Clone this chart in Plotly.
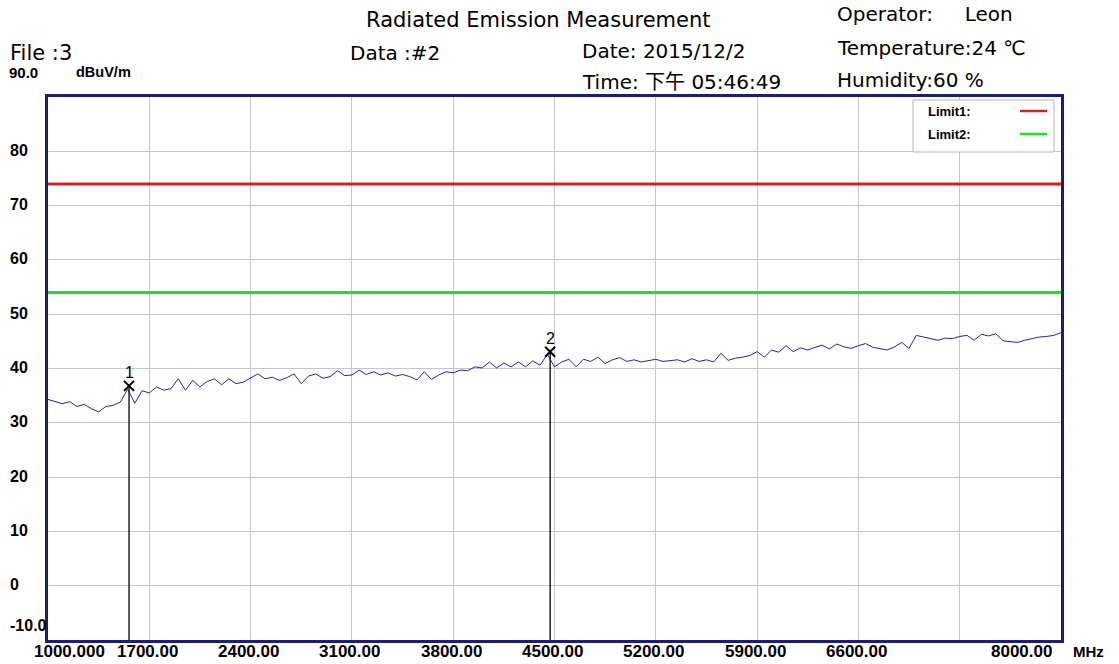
import plotly.graph_objects as go

# ---------------- data ----------------
FREQ_MHZ = list(range(1000, 8001, 50))
LEVEL_DBUV = [
    34.3, 33.9, 33.5, 33.9, 33.0, 33.4, 32.6, 32.0, 33.0, 33.2,
    33.8, 36.2, 33.6, 35.9, 35.5, 36.6, 36.0, 36.3, 38.1, 36.0,
    37.8, 36.6, 37.6, 38.1, 37.0, 38.1, 37.2, 37.5, 38.2, 39.0,
    38.1, 38.4, 37.8, 38.3, 39.0, 37.2, 38.6, 39.0, 38.2, 38.5,
    39.6, 38.7, 38.8, 39.7, 38.9, 39.4, 38.8, 39.2, 38.6, 38.9,
    38.5, 37.9, 39.4, 38.0, 38.8, 39.4, 39.2, 39.7, 39.6, 40.3,
    40.1, 41.2, 40.1, 41.0, 40.3, 41.2, 40.3, 41.4, 40.6, 42.6,
    40.3, 41.2, 41.7, 40.3, 41.7, 41.3, 42.1, 40.9, 41.6, 42.0,
    41.3, 41.6, 41.2, 41.5, 41.7, 41.3, 41.5, 41.6, 41.2, 41.8,
    41.3, 41.6, 41.2, 42.8, 41.5, 41.9, 42.1, 42.4, 43.1, 42.1,
    43.4, 43.0, 44.2, 43.1, 43.8, 43.4, 43.9, 44.3, 43.6, 44.5,
    44.0, 43.7, 44.2, 44.6, 43.9, 43.7, 43.4, 44.0, 44.8, 43.7,
    46.1, 45.8, 45.5, 45.2, 45.6, 45.5, 45.9, 46.1, 45.2, 46.3,
    46.0, 46.4, 45.1, 44.9, 44.8, 45.2, 45.5, 45.8, 45.9, 46.1,
    46.6,
]
assert len(FREQ_MHZ) == len(LEVEL_DBUV)

LIMIT1_DBUV = 74.0
LIMIT2_DBUV = 54.0

MARKER_LABELS = ["1", "2"]
MARKER_FREQ = [1560, 4470]
MARKER_LEVEL = [36.8, 43.1]

X_MIN, X_MAX = 1000, 8000
Y_MIN, Y_MAX = -10, 90
X_GRID_VALUES = [1700, 2400, 3100, 3800, 4500, 5200, 5900, 6600, 7300]
X_TICK_VALUES = [1700, 2400, 3100, 3800, 4500, 5200, 5900, 6600]
X_TICK_TEXT = ["1700.00", "2400.00", "3100.00", "3800.00", "4500.00",
               "5200.00", "5900.00", "6600.00"]
Y_TICK_VALUES = [80, 70, 60, 50, 40, 30, 20, 10, 0]
Y_TICK_TEXT = ["80", "70", "60", "50", "40", "30", "20", "10", "0"]

HEADER = {
    "title": "Radiated Emission Measurement",
    "operator": "Operator:\u00a0\u00a0\u00a0\u00a0 Leon",
    "file": "File :3",
    "data": "Data :#2",
    "date": "Date: 2015/12/2",
    "time": "Time: 下午 05:46:49",
    "temp": "Temperature:24 ℃",
    "hum": "Humidity:60 %",
}

# ---------------- layout geometry ----------------
W, H = 1119, 664
L, R, T, B = 48, 1061, 97, 640


def px(x):
    return (x - L) / (R - L)


def py(y):
    return (B - y) / (B - T)


NAVY = "#1c1c7c"
GRID = "#c4c4dc"
HFONT = "DejaVu Sans, Noto Sans CJK SC, sans-serif"
BFONT = "Liberation Sans, Arial, sans-serif"


def bfont(size):
    return dict(family=BFONT, size=size, color="black", weight="bold")


fig = go.Figure()

fig.add_trace(go.Scatter(x=[X_MIN, X_MAX], y=[LIMIT1_DBUV, LIMIT1_DBUV], mode="lines",
                         line=dict(color="#dc1e1e", width=3), showlegend=False, hoverinfo="skip"))
fig.add_trace(go.Scatter(x=[X_MIN, X_MAX], y=[LIMIT2_DBUV, LIMIT2_DBUV], mode="lines",
                         line=dict(color="#28dc28", width=3), showlegend=False, hoverinfo="skip"))
fig.add_trace(go.Scatter(x=FREQ_MHZ, y=LEVEL_DBUV, mode="lines",
                         line=dict(color="#2424a8", width=1), showlegend=False))

for f, v in zip(MARKER_FREQ, MARKER_LEVEL):
    fig.add_trace(go.Scatter(x=[f, f], y=[v, Y_MIN], mode="lines",
                             line=dict(color="black", width=1.3), showlegend=False, hoverinfo="skip"))
fig.add_trace(go.Scatter(x=MARKER_FREQ, y=MARKER_LEVEL, mode="markers",
                         marker=dict(symbol="x-thin-open", size=10, color="black",
                                     line=dict(color="black", width=2)),
                         showlegend=False))

annotations = []
for lab, f, v in zip(MARKER_LABELS, MARKER_FREQ, MARKER_LEVEL):
    annotations.append(dict(x=f, y=v, xref="x", yref="y", text=lab, showarrow=False,
                            yshift=13, font=dict(family=BFONT, size=16, color="black")))

# y tick labels (left aligned like the original)
for val, txt in zip(Y_TICK_VALUES, Y_TICK_TEXT):
    annotations.append(dict(x=px(8), y=val, xref="paper", yref="y", text=txt, showarrow=False,
                            xanchor="left", yanchor="middle", yshift=1, font=bfont(16)))
annotations.append(dict(x=px(8), y=py(625), xref="paper", yref="paper", text="-10.0",
                        showarrow=False, xanchor="left", yanchor="middle", font=bfont(16)))
annotations.append(dict(x=px(7), y=py(72), xref="paper", yref="paper", text="90.0",
                        showarrow=False, xanchor="left", yanchor="middle", font=bfont(15)))
annotations.append(dict(x=px(74), y=py(72), xref="paper", yref="paper", text="dBuV/m",
                        showarrow=False, xanchor="left", yanchor="middle", font=bfont(14.5)))

# x tick labels
for val, txt in zip(X_TICK_VALUES, X_TICK_TEXT):
    annotations.append(dict(x=val, y=py(651), xref="x", yref="paper", text=txt, showarrow=False,
                            xanchor="center", yanchor="middle", xshift=-2, font=bfont(17)))
annotations.append(dict(x=px(32), y=py(651), xref="paper", yref="paper", text="1000.000",
                        showarrow=False, xanchor="left", yanchor="middle", font=bfont(17)))
annotations.append(dict(x=px(1021), y=py(651), xref="paper", yref="paper", text="8000.00",
                        showarrow=False, xanchor="center", yanchor="middle", font=bfont(17)))
annotations.append(dict(x=px(1071), y=py(651), xref="paper", yref="paper", text="MHz",
                        showarrow=False, xanchor="left", yanchor="middle", font=bfont(15)))


# header texts
def head(key, x, y, size=20):
    annotations.append(dict(x=px(x), y=py(y), xref="paper", yref="paper", text=HEADER[key],
                            showarrow=False, xanchor="left", yanchor="middle",
                            font=dict(family=HFONT, size=size, color="black")))


head("title", 364, 20, 21)
head("operator", 835, 14)
head("file", 8, 53, 21)
head("data", 348, 53)
head("date", 580, 51)
head("time", 580, 82)
head("temp", 835, 48)
head("hum", 835, 80)

# legend box
annotations.append(dict(x=px(926), y=py(111), xref="paper", yref="paper", text="Limit1:",
                        showarrow=False, xanchor="left", yanchor="middle", font=bfont(13)))
annotations.append(dict(x=px(926), y=py(134), xref="paper", yref="paper", text="Limit2:",
                        showarrow=False, xanchor="left", yanchor="middle", font=bfont(13)))

shapes = [
    dict(type="rect", xref="paper", yref="paper", x0=px(913), x1=px(1054), y0=py(152), y1=py(100),
         fillcolor="white", line=dict(color="#b4b4b4", width=1), layer="above"),
    dict(type="line", xref="paper", yref="paper", x0=px(1020), x1=px(1047), y0=py(111), y1=py(111),
         line=dict(color="#dc1e1e", width=2.5), layer="above"),
    dict(type="line", xref="paper", yref="paper", x0=px(1020), x1=px(1047), y0=py(134), y1=py(134),
         line=dict(color="#28dc28", width=2.5), layer="above"),
]

fig.update_layout(
    width=W, height=H,
    margin=dict(l=L, r=W - R, t=T, b=H - B, pad=0, autoexpand=False),
    paper_bgcolor="white", plot_bgcolor="white",
    annotations=annotations, shapes=shapes,
    showlegend=False,
    xaxis=dict(range=[X_MIN, X_MAX], tickmode="array", tickvals=X_GRID_VALUES,
               showgrid=True, gridcolor=GRID, gridwidth=1, zeroline=False, automargin=False,
               showline=True, linecolor=NAVY, linewidth=3, mirror=True, ticks="",
               showticklabels=False),
    yaxis=dict(range=[Y_MIN, Y_MAX], tickmode="array", tickvals=Y_TICK_VALUES,
               showgrid=True, gridcolor=GRID, gridwidth=1, zeroline=False, automargin=False,
               showline=True, linecolor=NAVY, linewidth=3, mirror=True, ticks="",
               showticklabels=False),
)

fig.write_html("out.html", config={"displayModeBar": False},
               post_script="document.body.style.margin='0px';")
